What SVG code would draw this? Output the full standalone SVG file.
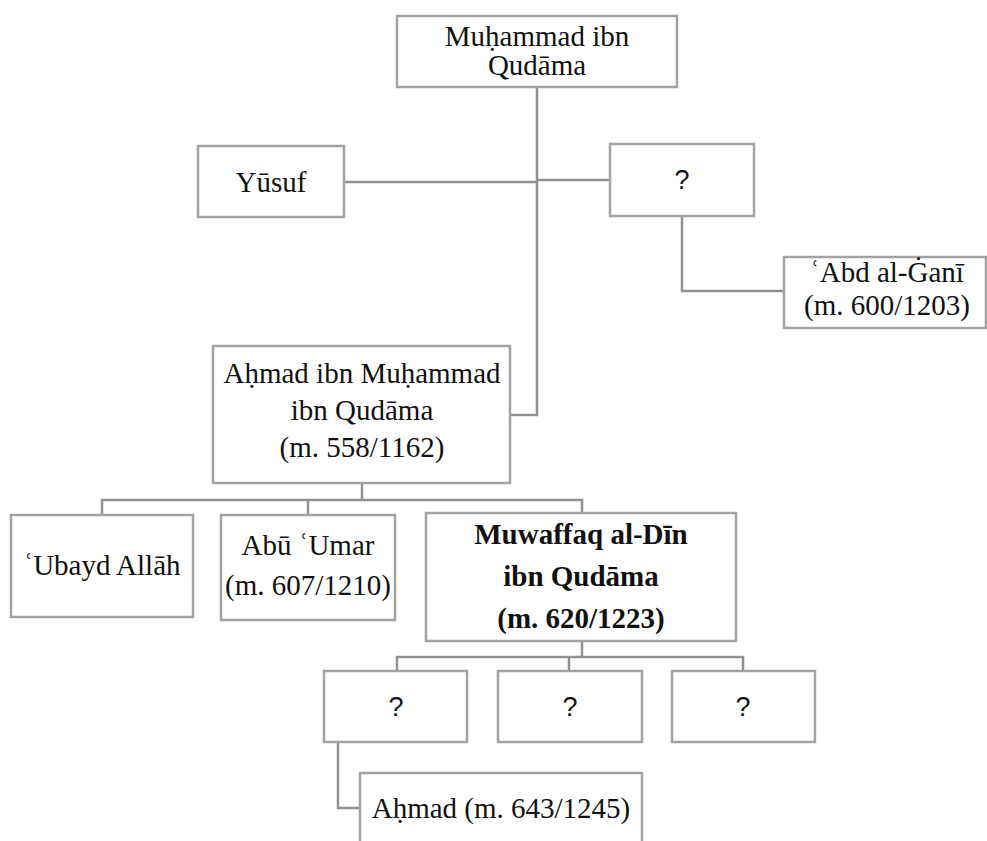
<svg xmlns="http://www.w3.org/2000/svg" width="987" height="841" viewBox="0 0 987 841">
<style>
.box{fill:#fff;stroke:#a3a3a3;stroke-width:2.5}
.ln{fill:none;stroke:#919191;stroke-width:2.5}
.t{font-family:"Liberation Serif","DejaVu Serif",serif;font-size:29px;fill:#111;text-anchor:middle}
.b{font-weight:bold}
.q{font-family:"Liberation Sans","DejaVu Sans",sans-serif;font-size:27px;fill:#111;text-anchor:middle}
</style>
<rect width="987" height="841" fill="#fff"/>
<g id="connectors">
<path class="ln" d="M537 87V415H510"/>
<path class="ln" d="M344 182H537"/>
<path class="ln" d="M537 180H610"/>
<path class="ln" d="M682 216V291H784"/>
<path class="ln" d="M362 483V500"/>
<path class="ln" d="M102 515V500H582V513"/>
<path class="ln" d="M308 500V515"/>
<path class="ln" d="M582 641V657"/>
<path class="ln" d="M397 671V657H743V671"/>
<path class="ln" d="M569 657V671"/>
<path class="ln" d="M338 742V808H360"/>
</g>
<g id="n-muhammad">
<rect class="box" x="397" y="16" width="280" height="71"/>
<text class="t" x="537" y="46">Muḥammad ibn</text>
<text class="t" x="537" y="75">Qudāma</text>
</g>
<g id="n-yusuf">
<rect class="box" x="198" y="146" width="146" height="71"/>
<text class="t" x="271" y="192">Yūsuf</text>
</g>
<g id="n-q1">
<rect class="box" x="610" y="144" width="144" height="72"/>
<text class="q" x="682" y="189">?</text>
</g>
<g id="n-abdalgani">
<rect class="box" x="784" y="257" width="202" height="71"/>
<text class="t" x="887" y="282">ʿAbd al-Ġanī</text>
<text class="t" x="887" y="315">(m. 600/1203)</text>
</g>
<g id="n-ahmad">
<rect class="box" x="213" y="346" width="297" height="137"/>
<text class="t" x="362" y="383">Aḥmad ibn Muḥammad</text>
<text class="t" x="362" y="420">ibn Qudāma</text>
<text class="t" x="362" y="457">(m. 558/1162)</text>
</g>
<g id="n-ubayd">
<rect class="box" x="11" y="515" width="182" height="102"/>
<text class="t" x="102" y="575">ʿUbayd Allāh</text>
</g>
<g id="n-abuumar">
<rect class="box" x="221" y="515" width="174" height="105"/>
<text class="t" x="308" y="555">Abū ʿUmar</text>
<text class="t" x="308" y="595">(m. 607/1210)</text>
</g>
<g id="n-muwaffaq">
<rect class="box" x="426" y="513" width="310" height="128"/>
<text class="t b" x="581" y="544">Muwaffaq al-Dīn</text>
<text class="t b" x="581" y="586">ibn Qudāma</text>
<text class="t b" x="581" y="628">(m. 620/1223)</text>
</g>
<g id="n-q2">
<rect class="box" x="324" y="671" width="143" height="71"/>
<text class="q" x="396" y="716">?</text>
</g>
<g id="n-q3">
<rect class="box" x="498" y="671" width="144" height="71"/>
<text class="q" x="570" y="716">?</text>
</g>
<g id="n-q4">
<rect class="box" x="672" y="671" width="143" height="71"/>
<text class="q" x="743" y="716">?</text>
</g>
<g id="n-ahmad643">
<rect class="box" x="360" y="773" width="282" height="90"/>
<text class="t" x="501" y="818">Aḥmad (m. 643/1245)</text>
</g>
</svg>
